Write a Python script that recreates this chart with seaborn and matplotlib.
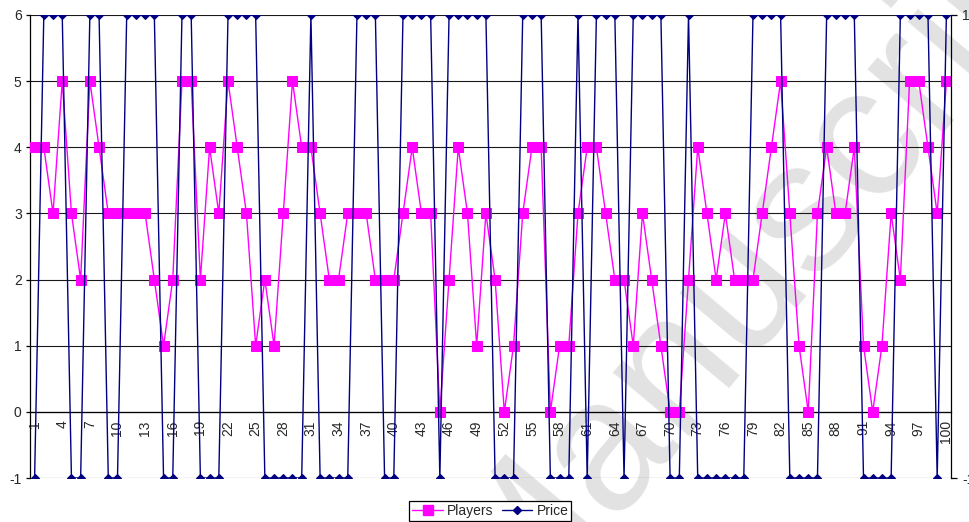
import numpy as np
import pandas as pd
import matplotlib
matplotlib.use("Agg")
import matplotlib.pyplot as plt
from matplotlib.lines import Line2D
import seaborn as sns

# ---- data ----
periods = list(range(1, 101))
players = [4, 4, 3, 5, 3, 2, 5, 4, 3, 3,
           3, 3, 3, 2, 1, 2, 5, 5, 2, 4,
           3, 5, 4, 3, 1, 2, 1, 3, 5, 4,
           4, 3, 2, 2, 3, 3, 3, 2, 2, 2,
           3, 4, 3, 3, 0, 2, 4, 3, 1, 3,
           2, 0, 1, 3, 4, 4, 0, 1, 1, 3,
           4, 4, 3, 2, 2, 1, 3, 2, 1, 0,
           0, 2, 4, 3, 2, 3, 2, 2, 2, 3,
           4, 5, 3, 1, 0, 3, 4, 3, 3, 4,
           1, 0, 1, 3, 2, 5, 5, 4, 3, 5]
price = [-1, 1, 1, 1, -1, -1, 1, 1, -1, -1,
         1, 1, 1, 1, -1, -1, 1, 1, -1, -1,
         -1, 1, 1, 1, 1, -1, -1, -1, -1, -1,
         1, -1, -1, -1, -1, 1, 1, 1, -1, -1,
         1, 1, 1, 1, -1, 1, 1, 1, 1, 1,
         -1, -1, -1, 1, 1, 1, -1, -1, -1, 1,
         -1, 1, 1, 1, -1, 1, 1, 1, 1, -1,
         -1, 1, -1, -1, -1, -1, -1, -1, 1, 1,
         1, 1, -1, -1, -1, -1, 1, 1, 1, 1,
         -1, -1, -1, -1, 1, 1, 1, 1, -1, 1]
xtick_positions = list(range(1, 101, 3))
xtick_labels = [str(v) for v in xtick_positions]
left_ticks = [-1, 0, 1, 2, 3, 4, 5, 6]
right_ticks = [-1, 1]

df = pd.DataFrame({"Period": periods, "Players": players, "Price": price})

sns.set_style("white")
plt.rcParams["font.family"] = ["Liberation Sans", "DejaVu Sans"]
plt.rcParams["axes.unicode_minus"] = False

MAGENTA = "#FF00FF"
NAVY = "#000080"

fig = plt.figure(figsize=(9.69, 5.22), dpi=100)
ax = fig.add_axes([30 / 969, 1 - 478 / 522, (951 - 30) / 969, (478 - 15) / 522])
ax.patch.set_alpha(0)

# watermark
ax.text(0.5247, -0.2125, "Manuscript", transform=fig.transFigure, rotation=50,
        rotation_mode="anchor", ha="left", va="baseline", fontsize=135,
        color="#e2e2e2", zorder=0, clip_on=False)

sns.lineplot(data=df, x="Period", y="Players", ax=ax, color=MAGENTA,
             marker="s", markersize=6.5, markeredgecolor=MAGENTA,
             linewidth=1.0, zorder=3, legend=False)

ax2 = ax.twinx()
sns.lineplot(data=df, x="Period", y="Price", ax=ax2, color=NAVY,
             marker="D", markersize=4.5, markeredgecolor=NAVY,
             linewidth=1.0, zorder=3, legend=False)

ax.set_xlim(0.5, 100.5)
ax.set_ylim(-1, 6)
ax.set_yticks(left_ticks)
ax.set_yticklabels([str(v) for v in left_ticks], fontsize=10)
ax.set_xticks(xtick_positions)
ax.set_xticklabels(xtick_labels, fontsize=10)
ax.set_xticks(np.arange(0.5, 101, 1.0), minor=True)
ax.tick_params(axis="x", which="major", length=0, pad=6, labelrotation=90)
ax.tick_params(axis="x", which="minor", direction="inout", length=7, width=0.9,
               color="black")
ax.tick_params(axis="y", which="major", direction="out", length=3, width=0.9,
               color="black", pad=3, left=True)
ax.set_xlabel("")
ax.set_ylabel("")
ax.grid(axis="y", color="#1a1a1a", linewidth=0.8)
ax.grid(axis="x", visible=False)
ax.spines["bottom"].set_position(("data", 0))
ax.spines["bottom"].set_color("black")
ax.spines["bottom"].set_linewidth(0.9)
ax.spines["left"].set_color("black")
ax.spines["left"].set_linewidth(0.9)
ax.spines["top"].set_visible(False)
ax.spines["right"].set_visible(False)

ax2.set_ylim(-1, 1)
ax2.set_yticks(right_ticks)
ax2.set_yticklabels([str(v) for v in right_ticks], fontsize=10)
ax2.tick_params(axis="y", which="major", direction="out", length=4, width=0.9,
                color="black", pad=4, right=True)
ax2.set_ylabel("")
ax2.set_xlabel("")
ax2.grid(False)
for s in ["top", "left", "bottom"]:
    ax2.spines[s].set_visible(False)
ax2.spines["right"].set_color("black")
ax2.spines["right"].set_linewidth(0.9)

handles = [
    Line2D([], [], color=MAGENTA, marker="s", markersize=6.5, linewidth=1.0),
    Line2D([], [], color=NAVY, marker="D", markersize=4.5, linewidth=1.0),
]
leg = fig.legend(handles, ["Players", "Price"], loc="center",
                 bbox_to_anchor=(0.506, 0.021), ncol=2, fontsize=10,
                 frameon=True, fancybox=False, framealpha=1,
                 edgecolor="black", handlelength=2.2, handletextpad=0.3,
                 columnspacing=0.6, borderpad=0.2, borderaxespad=0)
leg.get_frame().set_linewidth(0.9)

fig.savefig("out.png", dpi=100)
